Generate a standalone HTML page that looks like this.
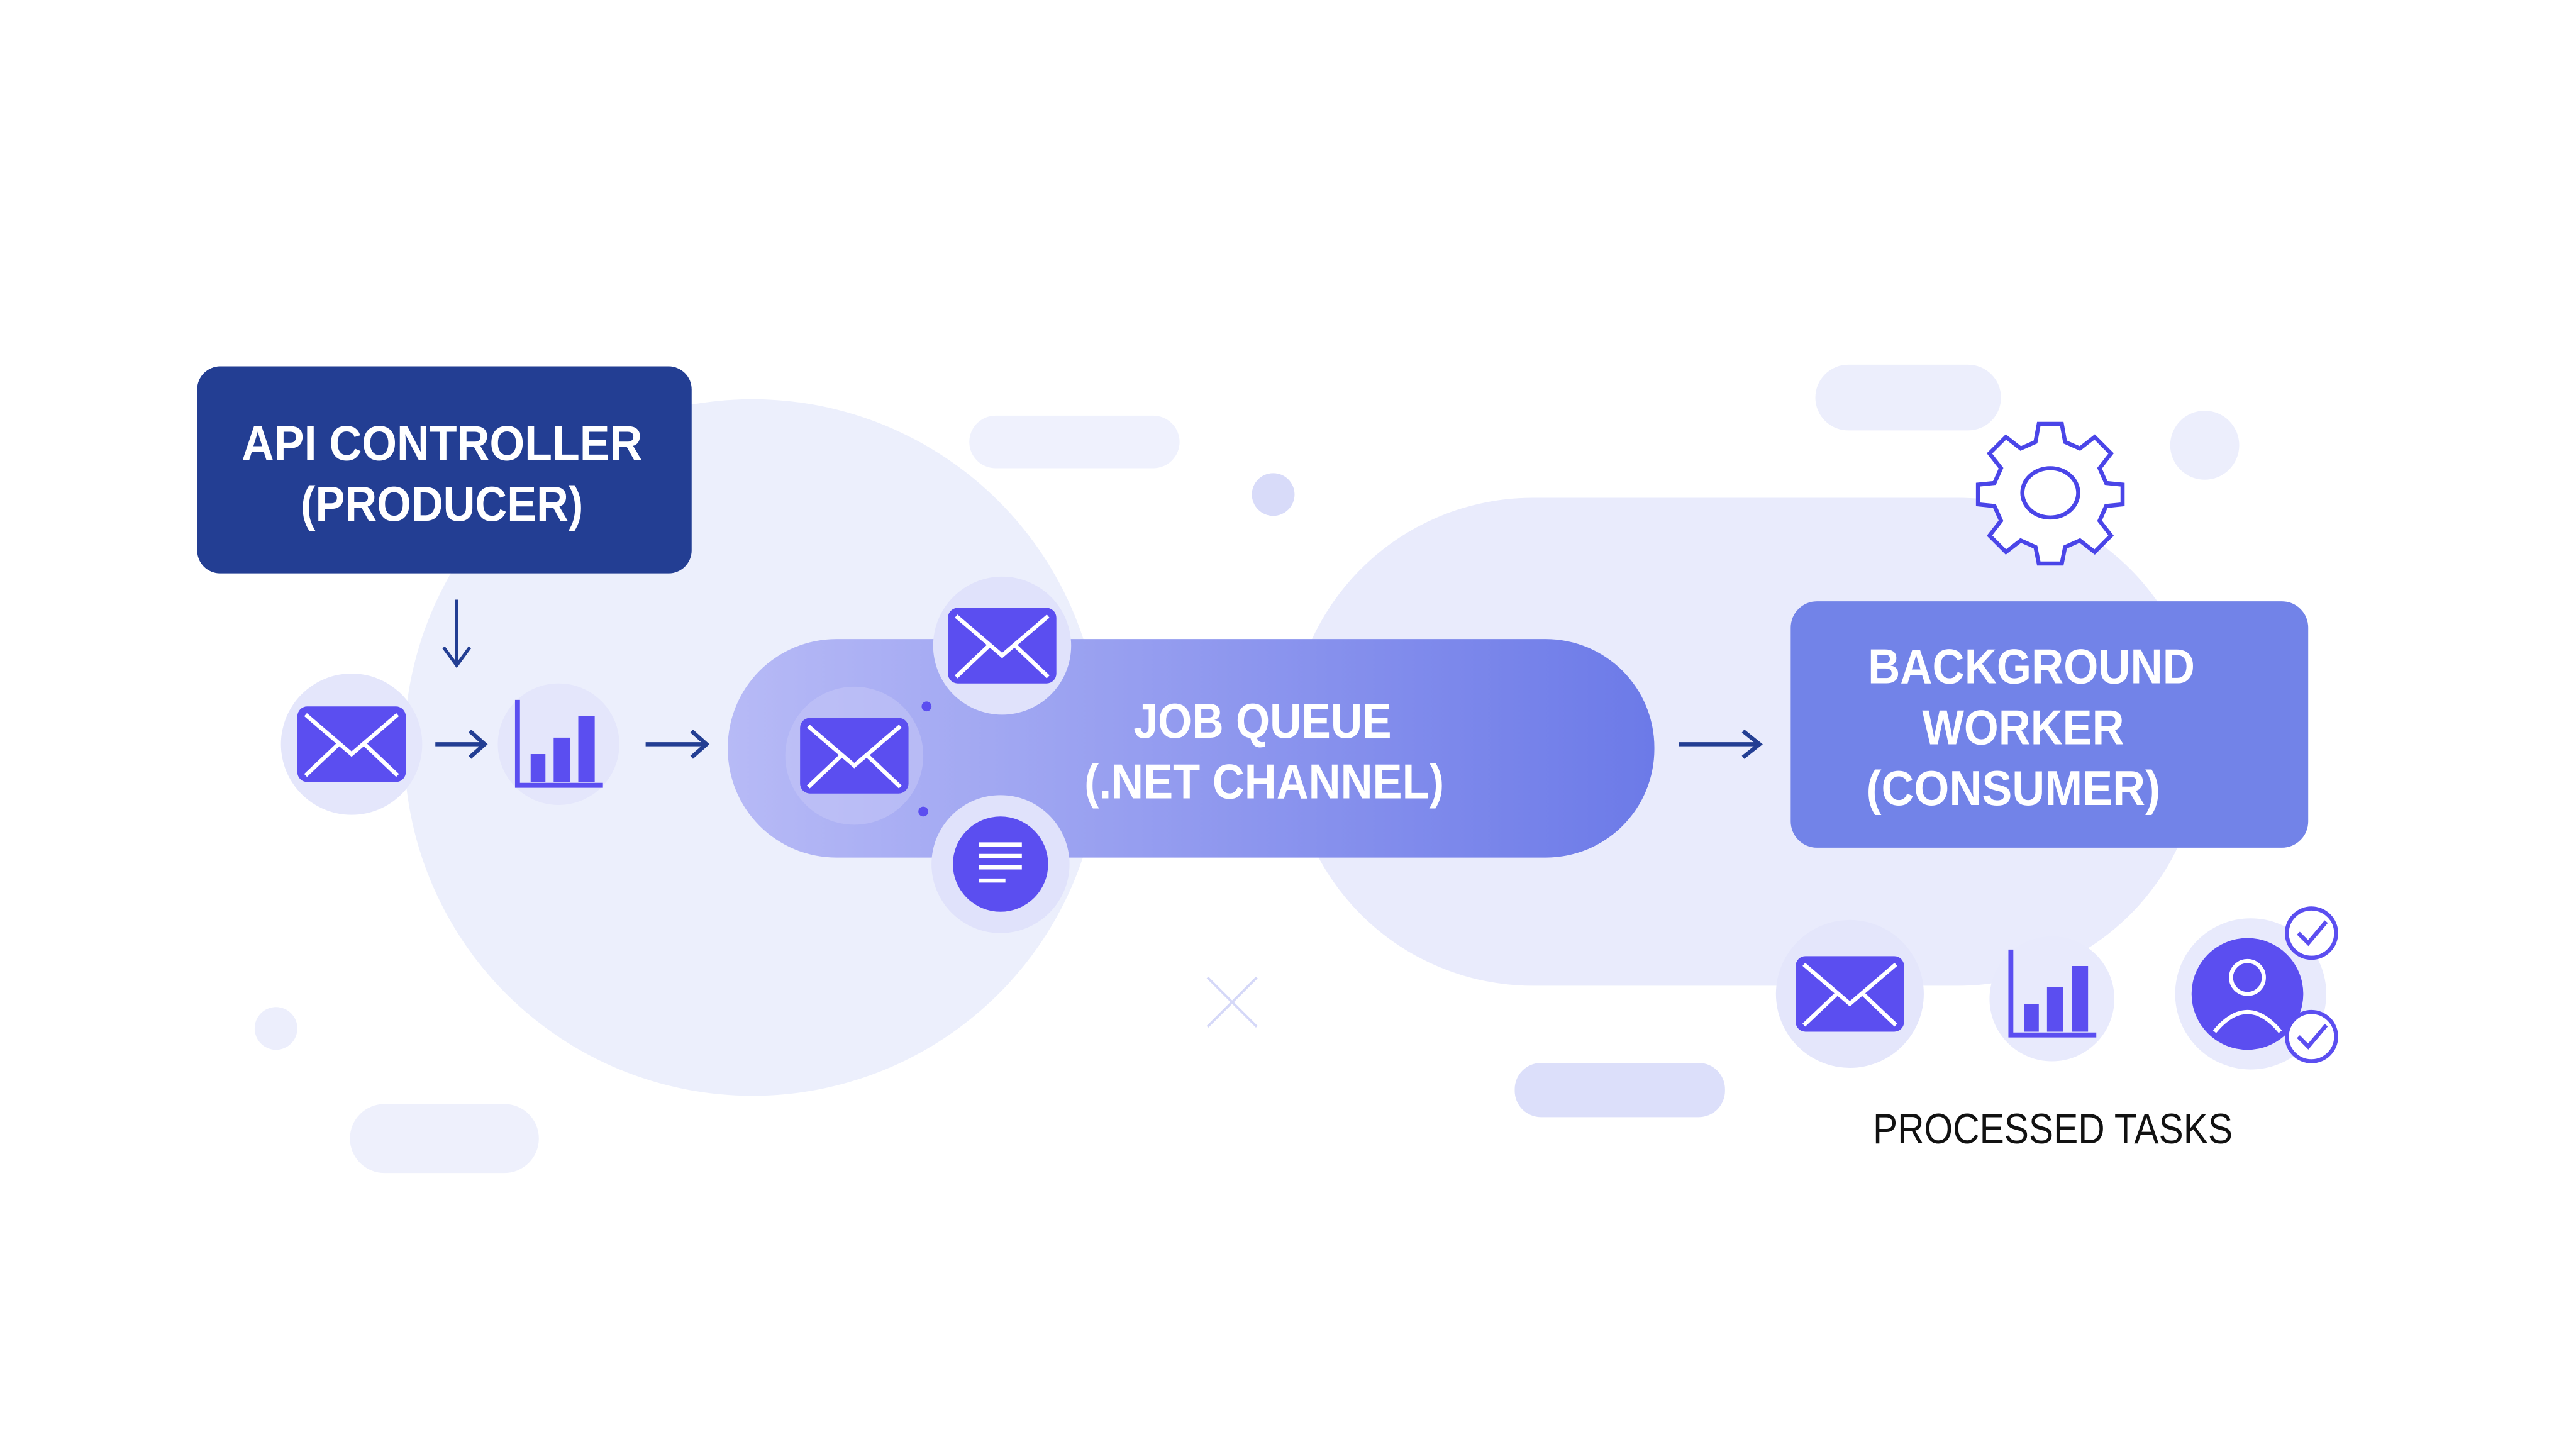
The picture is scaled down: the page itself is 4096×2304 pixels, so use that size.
<!DOCTYPE html>
<html><head><meta charset="utf-8"><style>html,body{margin:0;padding:0;background:#fff}svg{display:block}text{font-family:"Liberation Sans",sans-serif}</style></head><body>
<svg width="4096" height="2304" viewBox="0 0 1568 882" xmlns="http://www.w3.org/2000/svg">
<defs>
<linearGradient id="q" x1="0" x2="1"><stop offset="0" stop-color="#b7baf6"/><stop offset="1" stop-color="#6c7ae8"/></linearGradient>
<g id="env"><rect x="-33" y="-23" width="66" height="46" rx="6" fill="#5b4ef0"/><path d="M-28,-18 L0,6 L28,-18 M-28,19 L-8,0 M28,19 L8,0" stroke="#fff" stroke-width="2.5" fill="none"/></g>
<g id="chart"><path d="M-25,-27 V25 H27" stroke="#5b4ef0" stroke-width="3" fill="none"/><rect x="-17" y="6" width="9" height="17" fill="#5b4ef0"/><rect x="-3" y="-4" width="10" height="27" fill="#5b4ef0"/><rect x="12" y="-17" width="10" height="40" fill="#5b4ef0"/></g>
</defs>
<rect width="1568" height="882" fill="#fff"/>
<circle cx="458" cy="455" r="212" fill="#eceffc"/>
<rect x="785" y="303" width="555" height="297" rx="148" fill="#e9ebfc"/>
<rect x="590" y="253" width="128" height="32" rx="16" fill="#eff1fd"/>
<rect x="1105" y="222" width="113" height="40" rx="20" fill="#eceefc"/>
<circle cx="1342" cy="271" r="21" fill="#eceefc"/>
<circle cx="775" cy="301" r="13" fill="#d8dbf9"/>
<circle cx="168" cy="626" r="13" fill="#eceefc"/>
<rect x="213" y="672" width="115" height="42" rx="21" fill="#eef0fc"/>
<rect x="922" y="647" width="128" height="33" rx="16" fill="#dcdffa"/>
<path d="M735,595 L765,625 M765,595 L735,625" stroke="#d5d8f8" stroke-width="1.5"/>
<rect x="120" y="223" width="301" height="126" rx="14" fill="#233e93"/>
<g font-weight="bold" fill="#fff" font-size="30" lengthAdjust="spacingAndGlyphs">
<text x="147" y="280" textLength="244" lengthAdjust="spacingAndGlyphs">API CONTROLLER</text>
<text x="183" y="317" textLength="172" lengthAdjust="spacingAndGlyphs">(PRODUCER)</text>
<text x="690" y="449" textLength="157" lengthAdjust="spacingAndGlyphs">JOB QUEUE</text>
<text x="660" y="486" textLength="219" lengthAdjust="spacingAndGlyphs">(.NET CHANNEL)</text>
<text x="1137" y="416" textLength="199" lengthAdjust="spacingAndGlyphs">BACKGROUND</text>
<text x="1170" y="453" textLength="123" lengthAdjust="spacingAndGlyphs">WORKER</text>
<text x="1136" y="490" textLength="179" lengthAdjust="spacingAndGlyphs">(CONSUMER)</text>
</g>
<path d="M278,365 V404 M270,394 L278,405 L286,394" stroke="#233e93" stroke-width="2" fill="none"/>
<circle cx="214" cy="453" r="43" fill="#e4e6fb"/><use href="#env" x="214" y="453"/>
<path d="M265,453 H294 M286,445 L295,453 L286,461" stroke="#233e93" stroke-width="2.5" fill="none"/>
<circle cx="340" cy="453" r="37" fill="#e4e6fb"/><use href="#chart" x="340" y="453"/>
<path d="M393,453 H429 M421,445 L430,453 L421,461" stroke="#233e93" stroke-width="2.5" fill="none"/>
<rect x="443" y="389" width="564" height="133" rx="66" fill="url(#q)"/>
<circle cx="520" cy="460" r="42" fill="#c3c5f7" opacity=".6"/><use href="#env" x="520" y="460"/>
<circle cx="610" cy="393" r="42" fill="#e0e2fb"/><use href="#env" x="610" y="393"/>
<circle cx="609" cy="526" r="42" fill="#e0e2fb"/><circle cx="609" cy="526" r="29" fill="#5b4ef0"/>
<path d="M596,514 H622 M596,521 H622 M596,528 H622 M596,536 H612" stroke="#fff" stroke-width="2.5"/>
<circle cx="564" cy="430" r="3" fill="#5b4ef0"/><circle cx="562" cy="494" r="3" fill="#5b4ef0"/>
<!-- texts placed above -->
<path d="M1022,453 H1070 M1061,445 L1071,453 L1061,461" stroke="#233e93" stroke-width="2.5" fill="none"/>
<rect x="1090" y="366" width="315" height="150" rx="16" fill="#7283e8"/>
<g font-weight="bold" fill="#fff" font-size="30">
<text x="1137" y="416" textLength="199" lengthAdjust="spacingAndGlyphs">BACKGROUND</text>
<text x="1170" y="453" textLength="123" lengthAdjust="spacingAndGlyphs">WORKER</text>
<text x="1136" y="490" textLength="179" lengthAdjust="spacingAndGlyphs">(CONSUMER)</text>
</g>
<g transform="translate(1248,300)" fill="none" stroke="#4a45e8" stroke-width="2.5">
<path d="M-7,-42 H7 L9,-31 L18,-27 L27,-34 L37,-24 L30,-15 L34,-6 L44,-5 V7 L34,8 L30,17 L37,26 L27,36 L18,29 L9,33 L7,43 H-7 L-9,33 L-18,29 L-27,36 L-37,26 L-30,17 L-34,8 L-44,7 V-5 L-34,-6 L-30,-15 L-37,-24 L-27,-34 L-18,-27 L-9,-31 Z" fill="#fff"/>
<ellipse cx="0" cy="0" rx="17" ry="15"/></g>
<circle cx="1126" cy="605" r="45" fill="#e4e6fb"/><use href="#env" x="1126" y="605"/>
<circle cx="1249" cy="608" r="38" fill="#e8eafc"/><use href="#chart" x="1249" y="605"/>
<circle cx="1370" cy="605" r="46" fill="#e8eafc"/><circle cx="1368" cy="605" r="34" fill="#5b4ef0"/>
<circle cx="1368" cy="595" r="10" fill="none" stroke="#fff" stroke-width="2.5"/>
<path d="M1348,628 Q1368,604 1388,628" fill="none" stroke="#fff" stroke-width="2.5"/>
<g fill="#fff" stroke="#5b4ef0" stroke-width="2.5"><circle cx="1407" cy="568" r="15"/><circle cx="1407" cy="631" r="15"/></g>
<path d="M1399,568 L1405,574 L1416,561 M1399,631 L1405,637 L1416,624" fill="none" stroke="#5b4ef0" stroke-width="2.5"/>
<g font-weight="bold" fill="#fff" font-size="30">
<text x="690" y="449" textLength="157" lengthAdjust="spacingAndGlyphs">JOB QUEUE</text>
<text x="660" y="486" textLength="219" lengthAdjust="spacingAndGlyphs">(.NET CHANNEL)</text>
</g>
<text x="1140" y="696" font-size="26" fill="#111" textLength="219" lengthAdjust="spacingAndGlyphs">PROCESSED TASKS</text>
</svg>
</body></html>
